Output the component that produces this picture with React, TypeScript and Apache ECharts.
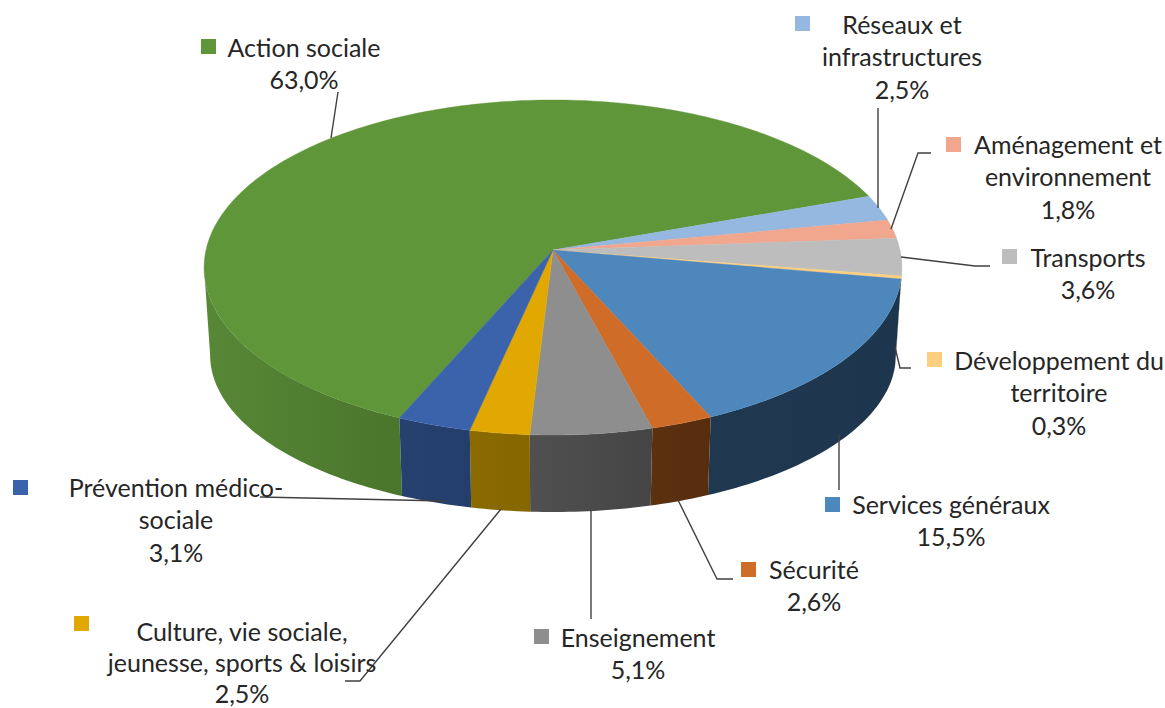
import React, { useEffect, useRef } from "react";
import * as echarts from "echarts";

// Budget shares, in drawing order (clockwise from the first slice).
const categories = [
  "Action sociale",
  "Réseaux et\ninfrastructures",
  "Aménagement et\nenvironnement",
  "Transports",
  "Développement du\nterritoire",
  "Services généraux",
  "Sécurité",
  "Enseignement",
  "Culture, vie sociale,\njeunesse, sports & loisirs",
  "Prévention médico-\nsociale",
];
const shares = [63.0, 2.5, 1.8, 3.6, 0.3, 15.5, 2.6, 5.1, 2.5, 3.1];

const topColors = ["#5f9639", "#95b8e0", "#f0a78d", "#bdbdbd", "#fecf7f", "#4d87bc", "#cf6c28", "#8e8e8e", "#e0a800", "#3a63ab"];
const wallStart = ["#578836", "#5a7087", "#8f6554", "#717171", "#987c4c", "#1f3850", "#5c3110", "#505050", "#8b6b00", "#27416f"];
const wallEnd = ["#4a752c", "#5a7087", "#8f6554", "#717171", "#987c4c", "#1e364d", "#582d0e", "#454545", "#856600", "#243e6c"];

// Horizontal text centre and vertical centre of the first line of each label.
const labelCentres = [
  [304, 47], [902, 24], [1068, 144], [1088, 257], [1059, 360],
  [951, 504], [814, 569], [638, 637], [242, 631], [176, 487],
];
// Line spacing per label; the lowest label is set a little tighter to stay on the page.
const lineSteps = [32.3, 32.3, 32.3, 32.3, 32.3, 32.3, 32.3, 32.3, 31, 32.3];
const keyCorners = [
  [201, 39], [795, 16], [946, 137], [1002, 249], [927, 352],
  [825, 497], [741, 562], [534, 629], [74, 616], [13, 480],
];
const leaderLines = [
  [[331, 138], [338, 92]],
  [[878, 108], [878, 208]],
  [[931, 153], [918, 153], [891, 229]],
  [[901, 257], [975, 266], [990, 266]],
  [[895, 347], [900, 368], [911, 368]],
  [[839, 435], [839, 490]],
  [[678, 500], [717, 579], [733, 579]],
  [[591, 510], [591, 619]],
  [[501, 509], [360, 681], [345, 681]],
  [[445, 501], [260, 497]],
];

const FIRST_SLICE_DEG = 203.6;
// Part of the rim that faces the viewer, between the two silhouette tangents.
const RIM_FROM_DEG = 96;
const RIM_TO_DEG = 264;

// Perspective projection of a flat disc: nearer points are drawn larger.
type Disc = { cx: number; cy: number; rx: number; ry: number };
const TILT = 0.1045;
const topDisc: Disc = { cx: 553, cy: 250, rx: 347, ry: 165.7 };
const baseDisc: Disc = { cx: 553, cy: 338.6, rx: 341, ry: 155.3 };

function project(d: Disc, deg: number): number[] {
  const a = (deg * Math.PI) / 180;
  const u = Math.sin(a);
  const v = -Math.cos(a);
  const w = 1 - TILT * v;
  return [d.cx + (d.rx * u) / w, d.cy + (d.ry * v) / w];
}

function arc(d: Disc, from: number, to: number): number[][] {
  const pts: number[][] = [];
  const n = Math.max(2, Math.ceil(to - from));
  for (let i = 0; i <= n; i++) pts.push(project(d, from + ((to - from) * i) / n));
  return pts;
}

function sliceSpan(index: number): [number, number] {
  const before = shares.slice(0, index).reduce((s, x) => s + x, 0);
  const from = FIRST_SLICE_DEG + (before / 100) * 360;
  return [from, from + (shares[index] / 100) * 360];
}

const percentText = (v: number) => v.toFixed(1).replace(".", ",") + "%";

export default function App() {
  const ref = useRef<HTMLDivElement>(null);

  useEffect(() => {
    document.body.style.margin = "0";
    const chart = echarts.init(ref.current!, null, { renderer: "svg" });

    const font = '25px Lato, "Open Sans", sans-serif';
    const graphic: any[] = [];
    leaderLines.forEach((points) => {
      graphic.push({
        type: "polyline",
        silent: true,
        z: 5,
        shape: { points },
        style: { stroke: "#404040", lineWidth: 1.4, fill: "none" },
      });
    });
    categories.forEach((name, i) => {
      const [cx, firstLineY] = labelCentres[i];
      const lines = name.split("\n");
      graphic.push({
        type: "rect",
        silent: true,
        z: 6,
        shape: { x: keyCorners[i][0], y: keyCorners[i][1], width: 15, height: 15 },
        style: { fill: topColors[i] },
      });
      lines.concat(percentText(shares[i])).forEach((line, k) => {
        graphic.push({
          type: "text",
          silent: true,
          z: 6,
          style: {
            x: cx,
            y: firstLineY + k * lineSteps[i],
            text: line,
            align: "center",
            verticalAlign: "middle",
            lineHeight: 20,
            font,
            fill: "#262626",
          },
        });
      });
    });

    chart.setOption({
      animation: false,
      backgroundColor: "#ffffff",
      graphic,
      series: [
        {
          type: "custom",
          name: "Parois",
          coordinateSystem: "none",
          silent: true,
          z: 1,
          data: shares,
          renderItem: (params: any) => {
            const i = params.dataIndex;
            let [from, to] = sliceSpan(i);
            if (from >= 360) {
              from -= 360;
              to -= 360;
            }
            const a = Math.max(from, RIM_FROM_DEG);
            const b = Math.min(to, RIM_TO_DEG);
            if (a >= b) return null;
            const points = [...arc(topDisc, a, b), ...arc(baseDisc, a, b).reverse()];
            return {
              type: "polygon",
              shape: { points },
              style: {
                fill: new echarts.graphic.LinearGradient(0, 0, 1, 0, [
                  { offset: 0, color: wallStart[i] },
                  { offset: 1, color: wallEnd[i] },
                ]),
              },
            };
          },
        },
        {
          type: "custom",
          name: "Répartition",
          coordinateSystem: "none",
          silent: true,
          z: 2,
          data: shares,
          renderItem: (params: any) => {
            const i = params.dataIndex;
            const [from, to] = sliceSpan(i);
            const points = [[topDisc.cx, topDisc.cy], ...arc(topDisc, from, to)];
            return {
              type: "polygon",
              shape: { points },
              style: { fill: topColors[i], stroke: topColors[i], lineWidth: 0.4 },
            };
          },
        },
      ],
    });

    return () => chart.dispose();
  }, []);

  return <div ref={ref} style={{ width: 1165, height: 708 }} />;
}
